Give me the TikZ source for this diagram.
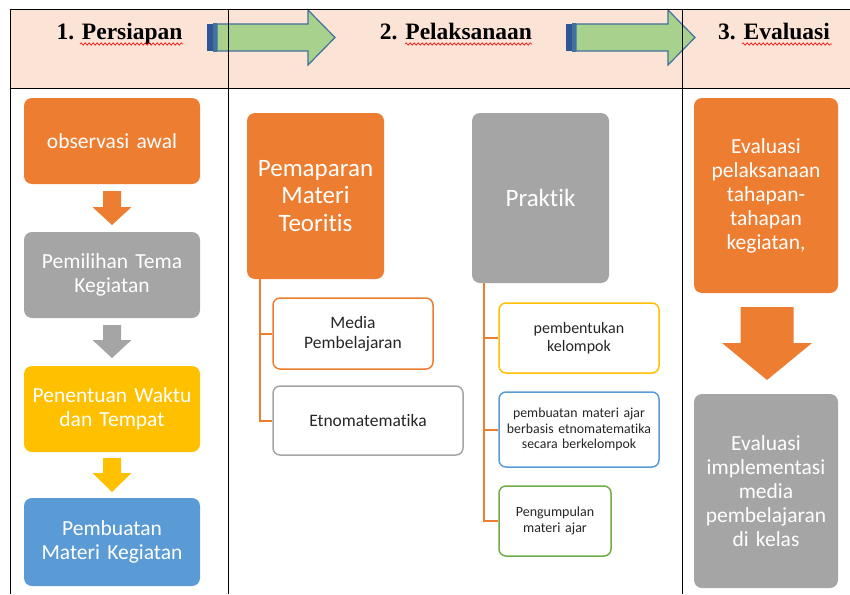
\documentclass[tikz,border=0pt]{standalone}
\usepackage{fontspec}
\setmainfont{Carlito}[Ligatures=NoCommon]
\newfontfamily\headfont{Liberation Serif}
\usetikzlibrary{decorations.pathmorphing}

\definecolor{boxorange}{HTML}{ED7D31}
\definecolor{boxgray}{HTML}{A5A5A5}
\definecolor{boxyellow}{HTML}{FFC000}
\definecolor{boxblue}{HTML}{5B9BD5}
\definecolor{boxgreen}{HTML}{70AD47}
\definecolor{headpink}{HTML}{FBE3D6}
\definecolor{arrowgreen}{HTML}{A9D18E}
\definecolor{arrowline}{HTML}{41719C}
\definecolor{arrowdark}{HTML}{2F5597}
\definecolor{darktext}{HTML}{262626}

% block arrow pointing down: colour, x, top, head base, tip, shaft half, head half
\newcommand\blockdown[7]{%
  \fill[#1] (#2-#6,#3) -- (#2+#6,#3) -- (#2+#6,#4) -- (#2+#7,#4)
    -- (#2,#5) -- (#2-#7,#4) -- (#2-#6,#4) -- cycle;}
% striped arrow pointing right: left x, head base x, tip x
\newcommand\stepright[3]{%
  \fill[arrowdark] (#1,24) rectangle (#1+6,51);
  \draw[arrowline, fill=arrowgreen, line width=1.2] (#1+7,24) rectangle (#1+9,51);
  \draw[arrowline, fill=arrowgreen, line width=1.2] (#1+10,24) -- (#2,24) -- (#2,10)
    -- (#3,37.5) -- (#2,65) -- (#2,51) -- (#1+10,51) -- cycle;}

\begin{document}
\begin{tikzpicture}[x=1pt,y=-1pt,
                fill box/.style={rounded corners=8, inner sep=0, align=center, text=white},
                line box/.style={rounded corners=7, inner sep=0, align=center, text=darktext,
                                 fill=white, line width=1.5},
                big text/.style={font=\fontsize{25}{27.5}\selectfont},
                mid text/.style={font=\fontsize{21.5}{24}\selectfont},
                branch/.style={boxorange, line width=2},
                head text/.style={anchor=base, font=\headfont\bfseries\fontsize{23.5}{26}\selectfont},
                wavy/.style={red, line width=0.6, decorate,
                             decoration={snake, amplitude=1.2, segment length=4}},
                ]
                \useasboundingbox (0,0) rectangle (850,594);

                % header row
                \fill[headpink] (10,9) rectangle (850,88);
                \stepright{207}{308}{335}
                \stepright{566}{668}{695}
                \draw[line width=0.8] (850,9) -- (10,9) -- (10,594);
                \draw[line width=0.8] (10,88) -- (850,88);
                \draw[line width=0.8] (228,9) -- (228,594);
                \draw[line width=0.8] (682,9) -- (682,594);

                \node[head text] (h1) at (119.5,40) {1. Persiapan};
                \node[head text] (h2) at (456,40) {2. Pelaksanaan};
                \node[head text] (h3) at (774,40) {3. Evaluasi};
                \draw[wavy] (80,44) -- (183,44);
                \draw[wavy] (405,44) -- (532,44);
                \draw[wavy] (742,44) -- (832,44);

                % 1. Persiapan
                \node[fill box, mid text, fill=boxorange, text width=176, minimum height=86] (ob) at (112,141) {observasi awal};
                \node[fill box, mid text, fill=boxgray, text width=176, minimum height=86] (pt) at (112,275) {Pemilihan Tema\\Kegiatan};
                \node[fill box, mid text, fill=boxyellow, text width=176, minimum height=86] (pw) at (112,409) {Penentuan Waktu\\dan Tempat};
                \node[fill box, mid text, fill=boxblue, text width=176, minimum height=88] (pb) at (112,542) {Pembuatan\\Materi Kegiatan};
                \blockdown{boxorange}{112}{191}{207}{225}{9}{19.5}
                \blockdown{boxgray}{112}{325}{340}{358}{9}{19.5}
                \blockdown{boxyellow}{112}{458}{473}{492}{9}{19.5}

                % 2. Pelaksanaan
                \node[fill box, big text, fill=boxorange, text width=137, minimum height=166] (pm) at (315.5,196) {Pemaparan\\Materi\\Teoritis};
                \node[fill box, big text, fill=boxgray, text width=137, minimum height=170] (pr) at (540.5,198) {Praktik};

                \node[line box, draw=boxorange, text width=160, minimum height=71,
                      font=\fontsize{17.5}{20}\selectfont] (md) at (353,333.5) {Media\\Pembelajaran};
                \node[line box, draw=boxgray, text width=190, minimum height=69,
                      font=\fontsize{17.5}{20}\selectfont] (et) at (368,420.5) {Etnomatematika};
                \draw[branch] ([xshift=13]pm.south west) |- (md.west);
                \draw[branch] ([xshift=13]pm.south west) |- (et.west);

                \node[line box, draw=boxyellow, text width=160, minimum height=70,
                      font=\fontsize{16}{18.5}\selectfont] (pk) at (579,338) {pembentukan\\kelompok};
                \node[line box, draw=boxblue, text width=160, minimum height=75,
                      font=\fontsize{13.8}{15.5}\selectfont] (pa) at (579,429.5) {pembuatan materi ajar\\berbasis etnomatematika\\secara berkelompok};
                \node[line box, draw=boxgreen, text width=112, minimum height=70,
                      font=\fontsize{14}{16.5}\selectfont] (pg) at (555,521) {Pengumpulan\\materi ajar};
                \draw[branch] ([xshift=12]pr.south west) |- (pk.west);
                \draw[branch] ([xshift=12]pr.south west) |- (pa.west);
                \draw[branch] ([xshift=12]pr.south west) |- (pg.west);

                % 3. Evaluasi
                \node[fill box, mid text, fill=boxorange, text width=144, minimum height=195] (e1) at (766,195.5) {Evaluasi\\pelaksanaan\\tahapan-\\tahapan\\kegiatan,};
                \node[fill box, mid text, fill=boxgray, text width=144, minimum height=194] (e2) at (766,491) {Evaluasi\\implementasi\\media\\pembelajaran\\di kelas};
                \blockdown{boxorange}{767}{307}{343}{380}{26.5}{45}
            \end{tikzpicture}
\end{document}
